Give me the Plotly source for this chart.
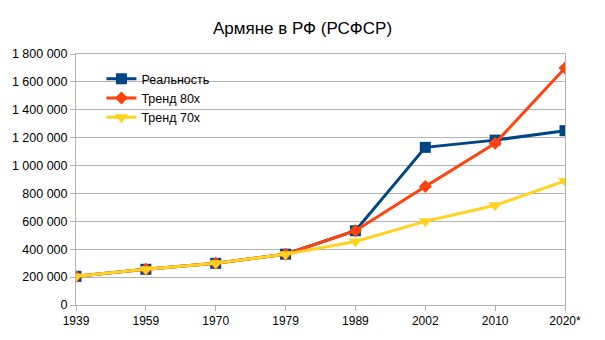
import plotly.graph_objects as go

years = ["1939", "1959", "1970", "1979", "1989", "2002", "2010", "2020*"]
reality = [205233, 255978, 298718, 364570, 532390, 1130491, 1182388, 1250000]
trend_80 = [205233, 255978, 298718, 364570, 532390, 850000, 1160000, 1700000]
trend_70 = [205233, 255978, 298718, 364570, 455000, 600000, 715000, 890000]
y_ticks = [0, 200000, 400000, 600000, 800000, 1000000, 1200000, 1400000, 1600000, 1800000]

series = [
    ("Реальность", reality, "#004586", "square", 11),
    ("Тренд 80х", trend_80, "#ff420e", "diamond", 10),
    ("Тренд 70х", trend_70, "#ffd320", "triangle-down", 12),
]

fig = go.Figure()
for name, vals, color, symbol, size in series:
    fig.add_trace(go.Scatter(
        x=years, y=vals, name=name, mode="lines+markers",
        line=dict(color=color, width=3),
        marker=dict(symbol=symbol, size=size, color=color),
    ))

grid = "#b3b3b3"
fig.update_layout(
    width=605, height=340,
    margin=dict(l=68, r=40, t=54, b=29),
    paper_bgcolor="white", plot_bgcolor="white",
    font=dict(family="Liberation Sans, Arial, sans-serif", size=12, color="#000000"),
    separators=". ",
    title=dict(text="Армяне в РФ (РСФСР)", x=0.5, xanchor="center", y=0.918, yanchor="middle",
               font=dict(size=17)),
    showlegend=True,
    legend=dict(x=0.052, y=0.96, xanchor="left", yanchor="top",
                bgcolor="rgba(0,0,0,0)", font=dict(size=12.5), tracegroupgap=0,
                itemwidth=30),
    xaxis=dict(type="category", range=[0, 7], showgrid=False, showline=True,
               linecolor=grid, linewidth=1, mirror=True, ticks="outside",
               ticklen=5, tickcolor=grid, tickfont=dict(size=12)),
    yaxis=dict(range=[0, 1800000], tickvals=y_ticks, tickformat=",d",
               showgrid=True, gridcolor=grid, gridwidth=1, showline=True,
               linecolor=grid, linewidth=1, mirror=True, ticks="outside",
               ticklen=5, tickcolor=grid, zeroline=False, tickfont=dict(size=12.5)),
)

fig.write_html("out.html")
